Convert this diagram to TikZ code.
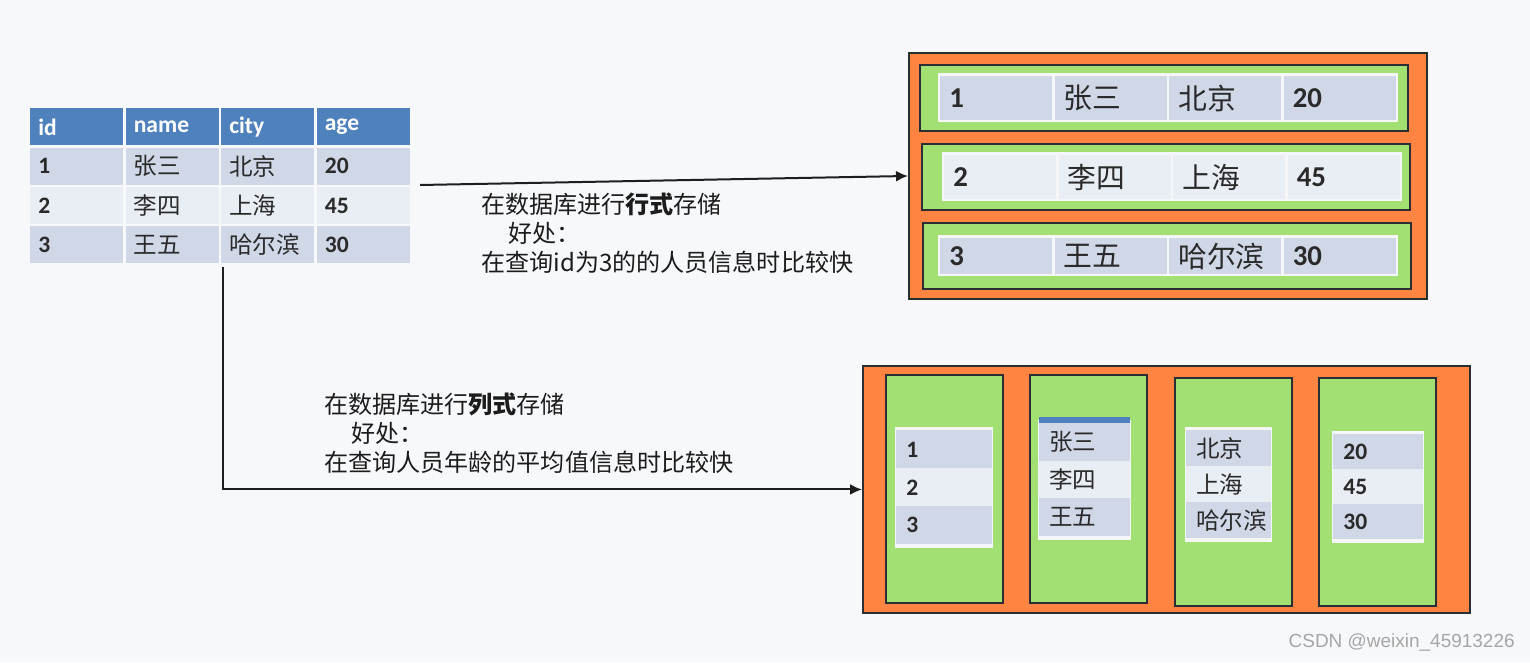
\documentclass[tikz,border=0pt]{standalone}
\usepackage{fontspec}
\setmainfont{Noto Sans CJK SC}
\newfontfamily\numfont{Carlito}
\newfontfamily\markfont{Liberation Sans}
\usetikzlibrary{arrows.meta}
\definecolor{pagebg}{HTML}{F7F8FA}
\definecolor{hdblue}{HTML}{4F81BD}
\definecolor{rowdark}{HTML}{D0D8E8}
\definecolor{rowlight}{HTML}{E9EDF4}
\definecolor{stripwhite}{HTML}{F4F6FA}
\definecolor{boxorange}{HTML}{FF8442}
\definecolor{boxgreen}{HTML}{A2E074}
\definecolor{edgegray}{HTML}{2B2F33}
\definecolor{inkgray}{HTML}{2A2A2A}
\definecolor{notetext}{HTML}{1C1C1C}
\definecolor{linkgray}{HTML}{1E1E1E}
\definecolor{markgray}{HTML}{A6A6A6}
\newcommand\tlfont{\fontsize{13.4}{15}\selectfont}
\newcommand\rfont{\fontsize{16.4}{18}\selectfont}
\newcommand\notefont{\fontsize{13.7}{16.5}\selectfont}
\newcommand\numb{\numfont\bfseries}
\newcommand\hanz{\normalfont}

\begin{document}
\begin{tikzpicture}[x=0.02cm,y=-0.02cm,
  panel/.style={anchor=north west,inner sep=0pt,draw=edgegray,line width=0.04cm},
  obox/.style={panel,fill=boxorange},
  gbox/.style={panel,fill=boxgreen},
  strip/.style={anchor=north west,inner sep=0pt,fill=stripwhite},
  tlcell/.style={anchor=north west,inner xsep=0.16cm,inner ysep=0pt,text width=1.54cm,minimum height=0.74cm,text=inkgray},
  rcell/.style={anchor=north west,inner xsep=0.18cm,inner ysep=0pt,text width=1.88cm,text=inkgray},
  ccell/.style={anchor=north west,inner xsep=0.2cm,inner ysep=0pt,text=inkgray},
  note/.style={anchor=north west,align=left,inner sep=0pt,font=\notefont,text=notetext},
  link/.style={draw=linkgray,line width=0.04cm,-{Latex[length=0.24cm,width=0.22cm]}}]
  \useasboundingbox (0,0) rectangle (1530,662);
  \fill[pagebg] (0,0) rectangle (1530,662);

  \foreach \t [count=\j from 0] in {id,name,city,age}
    \node[tlcell,fill=hdblue,text=white,font=\tlfont\numb] (hd\j) at (30+95.5*\j,108) {\t};
  \foreach \a/\b/\cc/\d/\f [count=\r] in {1/张三/北京/20/rowdark, 2/李四/上海/45/rowlight, 3/王五/哈尔滨/30/rowdark} {
    \node[tlcell,fill=\f,font=\tlfont\numb] (id\r) at (30,108+39.3*\r) {\a};
    \node[tlcell,fill=\f,font=\tlfont] (nm\r) at (125.5,108+39.3*\r) {\b};
    \node[tlcell,fill=\f,font=\tlfont] (ct\r) at (221,108+39.3*\r) {\cc};
    \node[tlcell,fill=\f,font=\tlfont\numb] (ag\r) at (316.5,108+39.3*\r) {\d};
  }

  \node[obox,minimum width=10.36cm,minimum height=4.92cm] (rowbox) at (908,52) {};
  \foreach \x/\y [count=\r] in {919/64, 921/143, 922/222}
    \node[gbox,minimum width=9.76cm,minimum height=1.32cm] (rg\r) at (\x,\y) {};
  \foreach \x/\y/\h/\f/\a/\b/\cc/\d [count=\r] in {938/73/49/rowdark/1/张三/北京/20, 942/152/49/rowlight/2/李四/上海/45, 938/235/41/rowdark/3/王五/哈尔滨/30} {
    \node[strip,minimum width=9.2cm,minimum height=\h*0.02cm] (rs\r) at (\x,\y) {};
    \node[rcell,fill=\f,minimum height=(\h-5)*0.02cm,font=\rfont\numb] (ra\r) at (\x+2,\y+3) {\a};
    \node[rcell,fill=\f,minimum height=(\h-5)*0.02cm,font=\rfont] (rb\r) at (\x+116.5,\y+3) {\b};
    \node[rcell,fill=\f,minimum height=(\h-5)*0.02cm,font=\rfont] (rc\r) at (\x+231,\y+3) {\cc};
    \node[rcell,fill=\f,minimum height=(\h-5)*0.02cm,font=\rfont\numb] (rd\r) at (\x+345.5,\y+3) {\d};
  }

  \node[obox,minimum width=12.14cm,minimum height=4.94cm] (colbox) at (862,365) {};
  \foreach \x/\y [count=\k] in {885/374, 1029/374, 1174/377, 1318/377}
    \node[gbox,minimum width=2.34cm,minimum height=4.56cm] (cg\k) at (\x,\y) {};
  \foreach \x/\y/\w/\h/\f/\a/\b/\cc [count=\k] in {896/430/96/38/\numb/1/2/3, 1039/423/91/37.5/\hanz/张三/李四/王五, 1186/430/85/36/\hanz/北京/上海/哈尔滨, 1333/434/90/35/\numb/20/45/30} {
    \pgfmathsetlengthmacro\tw{(\w-20)*0.02cm}
    \node[strip,minimum width=(\w+2)*0.02cm,minimum height=(3*\h+7)*0.02cm] (cs\k) at (\x-1,\y-3) {};
    \node[ccell,text width=\tw,minimum height=\h*0.02cm,fill=rowdark,font=\tlfont\f] (ca\k) at (\x,\y) {\a};
    \node[ccell,text width=\tw,minimum height=\h*0.02cm,fill=rowlight,font=\tlfont\f] (cb\k) at (\x,\y+\h) {\b};
    \node[ccell,text width=\tw,minimum height=\h*0.02cm,fill=rowdark,font=\tlfont\f] (cc\k) at (\x,\y+2*\h) {\cc};
  }
  \fill[hdblue] (1039,417) rectangle (1130,423);

  \coordinate (rowsrc) at ([xshift=0.2cm]ag1.south east);
  \coordinate (colsrc) at ([shift={(2,3)}]ct3.south west);
  \draw[link] (rowsrc) -- (rowbox.west);
  \draw[link] (colsrc) |- (colbox.west);

  \node[note] (rownote) at (481,192) {在数据库进行\textbf{行式}存储\\\hspace{0.54cm}好处：\\在查询id为3的的人员信息时比较快};
  \node[note] (colnote) at (324,392) {在数据库进行\textbf{列式}存储\\\hspace{0.54cm}好处：\\在查询人员年龄的平均值信息时比较快};

  \node[anchor=east,inner sep=0pt,font=\markfont\fontsize{10.8}{12}\selectfont,text=markgray] (mark) at (1515,643) {CSDN @weixin\_45913226};
\end{tikzpicture}
\end{document}
